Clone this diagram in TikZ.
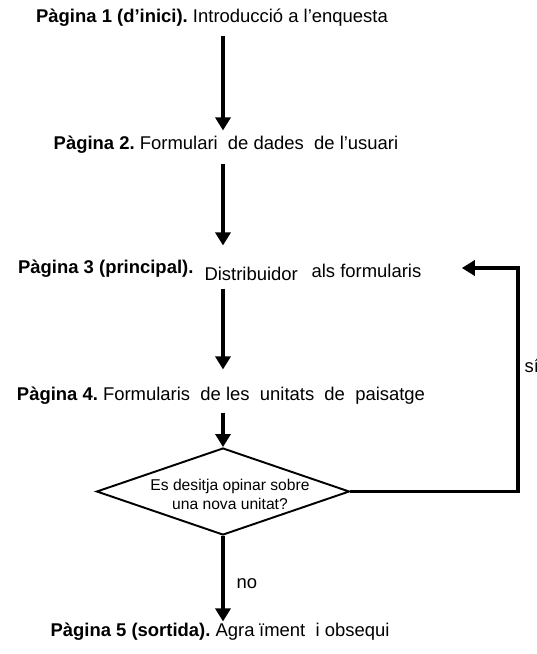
\documentclass[tikz,border=0pt]{standalone}
\usepackage{fontspec}
\setmainfont{Liberation Sans}
\usetikzlibrary{arrows.meta,shapes.geometric}
\frenchspacing

\begin{document}
\begin{tikzpicture}[
    x = 0.02cm, y = -0.02cm, line width = 1.8pt,
    font = \fontsize{10.5}{12.6}\selectfont,
    >={Triangle[length = 0.26cm, width = 0.3cm]},
    page/.style ={inner sep = 0pt, text height = 0.26cm, text depth = 0.08cm},
    ask/.style  ={diamond, draw, line width = 1.1pt, inner sep = 0pt,
                  minimum width = 5.06cm, minimum height = 1.74cm}
    ]
\useasboundingbox (0, 0) rectangle (537, 654);

% pages of the survey
    \node (P1) at (212, 22)  [page, anchor = base]{\textbf{Pàgina 1 (d’inici).} Introducció a l’enquesta};
    \node (P2) at (226, 149) [page, anchor = base]{\textbf{Pàgina 2.} Formulari\ \ de dades\ \ de l’usuari};
    \node (P3) at (195, 273) [page, anchor = base east]{\textbf{Pàgina 3 (principal).}};
    \node (D3) at (203, 280) [page, anchor = base west]{Distribuidor};
    \node (F3) at (310, 277) [page, anchor = base west]{als formularis};
    \node (P4) at (221, 400) [page, anchor = base]{\textbf{Pàgina 4.} Formularis\ \ de les\ \ unitats\ \ de\ \ paisatge};
    \node (P5) at (220, 636) [page, anchor = base]{\textbf{Pàgina 5 (sortida).} Agra\hspace{0.25em}ïment\ \ i obsequi};

% the question
    \node (Q)  at (223, 491.5) [ask]{};
    \node (QT) at (230, 494) [align = center, inner sep = 0pt,
        font = \fontsize{8.9}{10.8}\selectfont]{Es desitja opinar sobre\\una nova unitat?};

    \draw [->, shorten <= 0.16cm, shorten >= 0.08cm](P1.south -| Q.north) -- (P2.north -| Q.north);
    \draw [->, shorten <= 0.18cm, shorten >= 0.26cm](P2.south -| Q.north) -- (P3.north -| Q.north);
    \draw [->, shorten <= 0.20cm, shorten >= 0.32cm](P3.south -| Q.north) -- (P4.north -| Q.north);
    \draw [->, shorten <= 0.14cm](P4.south -| Q.north) -- (Q.north);
    \draw [->](Q.south) -- (P5.north -| Q.south);

% back to page 3
    \coordinate (turn) at (518, 268);
    \draw [->, shorten >= 0.78cm](Q.east) -| (turn) -- (turn -| F3.east);
    \node (yes) at (523, 372) [inner sep = 0pt, anchor = base west]{sí};
    \node (no)  at (235, 588) [inner sep = 0pt, anchor = base west]{no};
\end{tikzpicture}
\end{document}
